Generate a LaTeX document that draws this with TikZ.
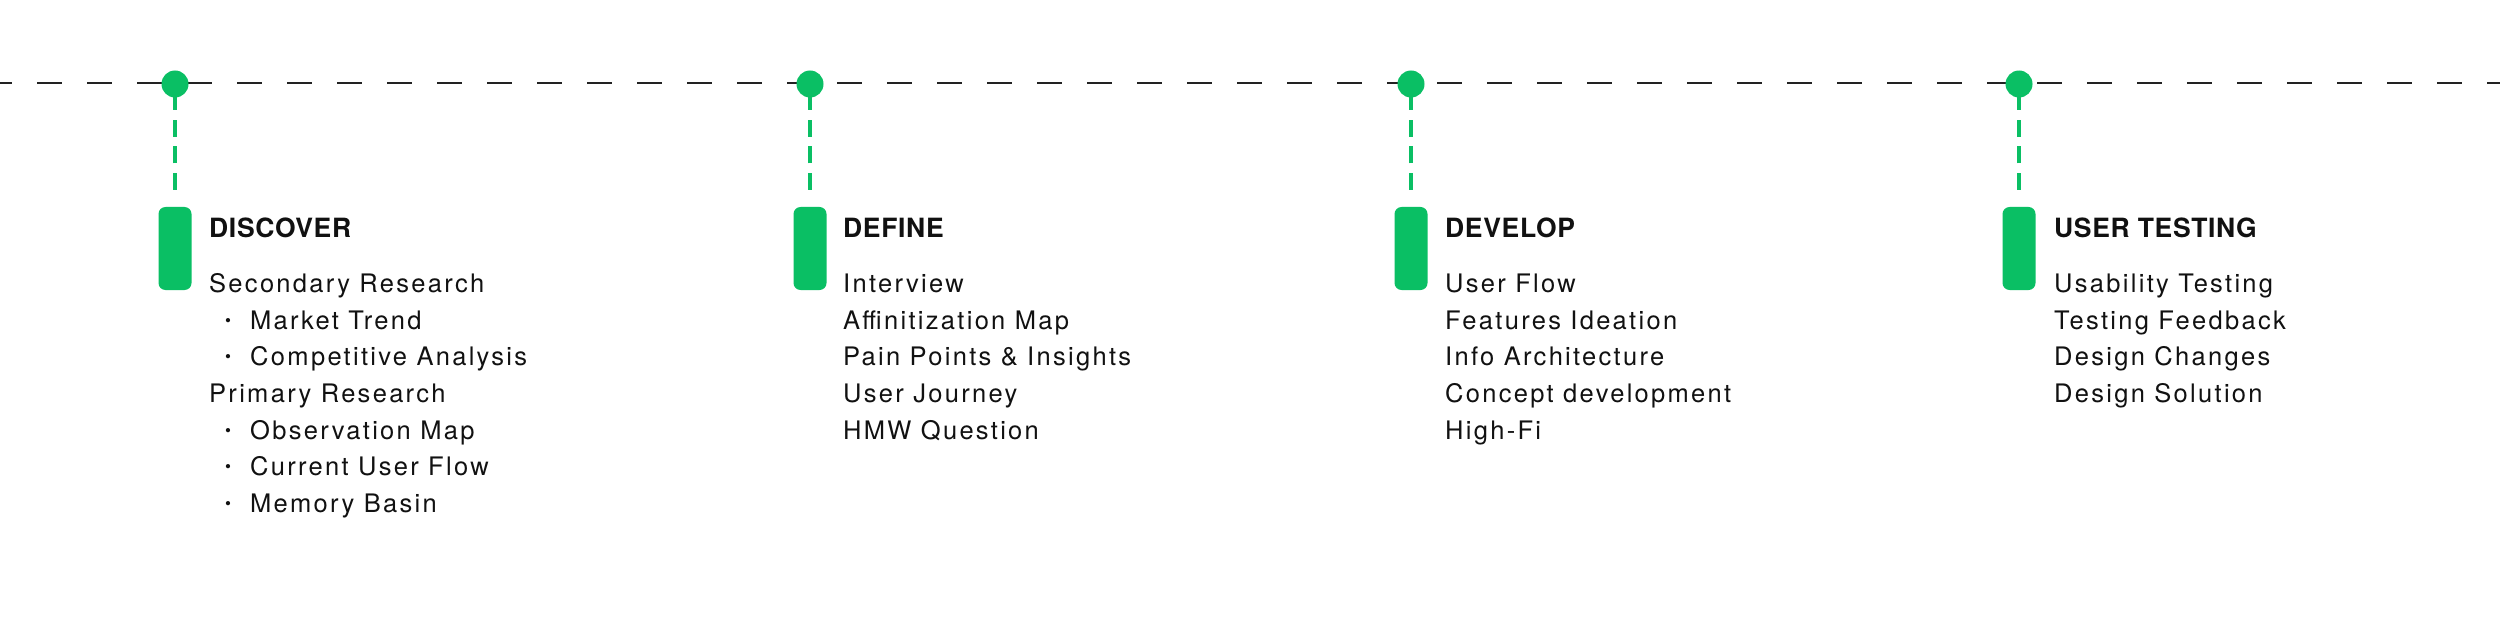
\documentclass[tikz,border=0pt]{standalone}
\usepackage{fontspec}
\usetikzlibrary{backgrounds}
\newfontfamily\bodyfont[LetterSpace=9]{TeX Gyre Heros}
\newfontfamily\headfont[LetterSpace=2.5]{TeX Gyre Heros}
\newfontfamily\bulfont{TeX Gyre Heros}
\definecolor{brand}{HTML}{0ABF64}
\definecolor{ink}{HTML}{111111}
\definecolor{lineink}{HTML}{222222}
\tikzset{
  dot/.style={circle, fill=brand, minimum size=27pt, inner sep=0pt},
  bar/.style={rectangle, rounded corners=7pt, fill=brand, minimum width=33pt, minimum height=83pt, inner sep=0pt},
  head/.style={anchor=base west, inner sep=0pt, text=ink, font=\headfont\bfseries\fontsize{26.5}{30}\selectfont},
  body/.style={anchor=base west, inner sep=0pt, text=ink, font=\bodyfont\fontsize{25.5}{30}\selectfont},
  bul/.style={anchor=base, inner sep=0pt, text=ink, font=\bulfont\fontsize{17}{17}\selectfont},
  timeline/.style={draw=lineink, line width=2pt, dash pattern=on 25pt off 25pt, dash phase=12.7pt},
  stem/.style={draw=brand, line width=3.5pt, dash pattern=on 17pt off 9.7pt}
}
\begin{document}
\begin{tikzpicture}[x=1pt,y=-1pt]
\useasboundingbox (0,0) rectangle (2500,631);
\coordinate (tlL) at (0,83.5);
\coordinate (tlR) at (2500,83.5);
\foreach \X/\n in {175/1,810/2,1411/3,2019/4}{
  \node[dot] (d\n) at (\X,84) {};
  \node[bar] (b\n) at (\X,248.5) {};
  \coordinate (g\n) at (\X,190);
}
\begin{scope}[on background layer]
  \fill[white] (0,0) rectangle (2500,631);
  \draw[timeline] (tlL) -- (tlR);
  \foreach \n in {1,...,4} \draw[stem] (g\n) -- (d\n.center);
\end{scope}
% Stage 1
\node[head] (h1) at (209,237) {DISCOVER};
\node[body] (t10) at (209,292.3) {Secondary Research};
\node[bul]  (u11) at (228,326.1) {•};
\node[body] (t11) at (250,329) {Market Trend};
\node[bul]  (u12) at (228,362.8) {•};
\node[body] (t12) at (250,365.7) {Competitive Analysis};
\node[body] (t13) at (209,402.4) {Primary Research};
\node[bul]  (u14) at (228,436.2) {•};
\node[body] (t14) at (250,439.1) {Observation Map};
\node[bul]  (u15) at (228,472.9) {•};
\node[body] (t15) at (250,475.8) {Current User Flow};
\node[bul]  (u16) at (228,509.6) {•};
\node[body] (t16) at (250,512.5) {Memory Basin};
% Stage 2
\node[head] (h2) at (843,237) {DEFINE};
\node[body] (t20) at (843,292.3) {Interview};
\node[body] (t21) at (843,329) {Affinitization Map};
\node[body] (t22) at (843,365.7) {Pain Points \& Insights};
\node[body] (t23) at (843,402.4) {User Journey};
\node[body] (t24) at (843,439.1) {HMW Question};
% Stage 3
\node[head] (h3) at (1445,237) {DEVELOP};
\node[body] (t30) at (1445,292.3) {User Flow};
\node[body] (t31) at (1445,329) {Features Ideation};
\node[body] (t32) at (1445,365.7) {Info Architecture};
\node[body] (t33) at (1445,402.4) {Concept development};
\node[body] (t34) at (1445,439.1) {High-Fi};
% Stage 4
\node[head] (h4) at (2054,237) {USER TESTING};
\node[body] (t40) at (2054,292.3) {Usability Testing};
\node[body] (t41) at (2054,329) {Testing Feedback};
\node[body] (t42) at (2054,365.7) {Design Changes};
\node[body] (t43) at (2054,402.4) {Design Solution};
\end{tikzpicture}
\end{document}
